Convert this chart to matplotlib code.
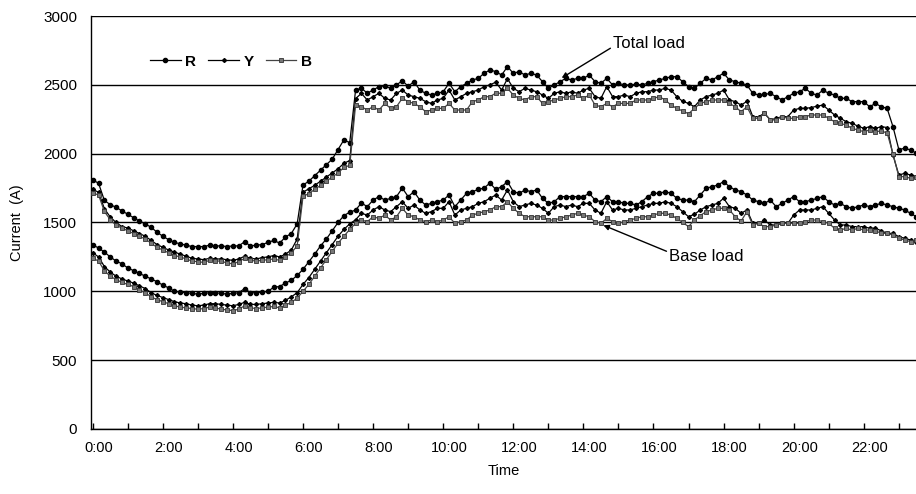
import numpy as np
import matplotlib
matplotlib.use("Agg")
import matplotlib.pyplot as plt

plt.rcParams['font.family'] = ['Liberation Sans', 'DejaVu Sans']

# 10-minute samples from 0:00 to 23:30
total_R = [
    1810, 1785, 1660, 1630, 1610, 1585,
    1560, 1535, 1510, 1490, 1465, 1430,
    1400, 1375, 1355, 1345, 1335, 1325,
    1325, 1325, 1335, 1330, 1330, 1325,
    1330, 1330, 1360, 1330, 1335, 1340,
    1355, 1370, 1350, 1395, 1420, 1490,
    1772, 1800, 1840, 1880, 1920, 1960,
    2030, 2100, 2080, 2462, 2475, 2440,
    2462, 2487, 2492, 2475, 2499, 2530,
    2490, 2523, 2462, 2438, 2426, 2438,
    2450, 2511, 2450, 2487, 2511, 2535,
    2547, 2584, 2608, 2596, 2571, 2632,
    2584, 2596, 2571, 2584, 2571, 2523,
    2475, 2499, 2523, 2547, 2535, 2547,
    2547, 2571, 2523, 2511, 2547, 2499,
    2511, 2499, 2499, 2505, 2499, 2511,
    2523, 2535, 2547, 2559, 2559, 2523,
    2487, 2475, 2511, 2547, 2535, 2559,
    2584, 2535, 2523, 2511, 2499, 2438,
    2426, 2430, 2438, 2414, 2390, 2414,
    2438, 2450, 2475, 2438, 2426, 2462,
    2438, 2426, 2402, 2402, 2378, 2378,
    2378, 2341, 2365, 2341, 2329, 2196,
    2030, 2039, 2027, 2003,
]
total_Y = [
    1740, 1720, 1600, 1540, 1500, 1470,
    1460, 1440, 1420, 1400, 1370, 1340,
    1320, 1300, 1285, 1270, 1255, 1240,
    1235, 1230, 1240, 1235, 1235, 1230,
    1225, 1235, 1255, 1240, 1235, 1245,
    1250, 1260, 1250, 1270, 1300, 1380,
    1720, 1745, 1770, 1800, 1830, 1860,
    1890, 1930, 1950, 2400, 2438, 2390,
    2414, 2438, 2402, 2390, 2438, 2462,
    2426, 2414, 2402, 2378, 2365, 2390,
    2402, 2462, 2390, 2414, 2438, 2450,
    2462, 2487, 2499, 2520, 2462, 2545,
    2475, 2450, 2475, 2462, 2450, 2426,
    2402, 2438, 2450, 2438, 2450, 2438,
    2462, 2475, 2414, 2402, 2487, 2414,
    2414, 2426, 2414, 2438, 2450, 2450,
    2462, 2462, 2475, 2462, 2414, 2380,
    2365, 2341, 2390, 2414, 2426, 2438,
    2462, 2390, 2378, 2353, 2380, 2269,
    2269, 2293, 2245, 2257, 2269, 2269,
    2317, 2329, 2329, 2335, 2345, 2353,
    2317, 2281, 2257, 2232, 2220, 2200,
    2184, 2196, 2184, 2196, 2190, 1990,
    1845, 1857, 1845, 1833,
]
total_B = [
    1715, 1700, 1580, 1520, 1480, 1460,
    1440, 1420, 1400, 1380, 1350, 1320,
    1300, 1280, 1260, 1250, 1235, 1220,
    1215, 1210, 1225, 1220, 1220, 1205,
    1200, 1215, 1240, 1225, 1220, 1225,
    1230, 1235, 1225, 1250, 1280, 1330,
    1690, 1710, 1740, 1770, 1800, 1830,
    1860, 1900, 1915, 2353, 2341, 2317,
    2341, 2317, 2365, 2329, 2341, 2402,
    2378, 2365, 2341, 2305, 2317, 2329,
    2329, 2365, 2317, 2317, 2317, 2378,
    2390, 2414, 2414, 2440, 2438, 2475,
    2426, 2402, 2390, 2414, 2414, 2365,
    2378, 2390, 2402, 2414, 2414, 2426,
    2402, 2426, 2353, 2341, 2365, 2341,
    2365, 2365, 2365, 2390, 2390, 2390,
    2402, 2414, 2390, 2353, 2329, 2310,
    2290, 2329, 2365, 2378, 2390, 2390,
    2390, 2365, 2341, 2305, 2341, 2257,
    2257, 2293, 2245, 2245, 2269, 2257,
    2257, 2269, 2269, 2281, 2281, 2281,
    2257, 2232, 2220, 2208, 2184, 2172,
    2160, 2172, 2160, 2165, 2150, 2000,
    1833, 1833, 1821, 1833,
]
base_R = [
    1337, 1315, 1285, 1250, 1220, 1200,
    1170, 1150, 1130, 1110, 1090, 1070,
    1045, 1025, 1000, 995, 990, 985,
    980, 985, 990, 990, 985, 980,
    985, 990, 1020, 990, 990, 995,
    1000, 1030, 1035, 1060, 1080, 1115,
    1160, 1215, 1270, 1330, 1380, 1440,
    1500, 1550, 1575, 1590, 1642, 1615,
    1663, 1688, 1663, 1675, 1688, 1750,
    1688, 1724, 1663, 1627, 1639, 1651,
    1663, 1700, 1615, 1663, 1712, 1724,
    1740, 1750, 1787, 1740, 1760, 1797,
    1724, 1712, 1736, 1724, 1736, 1676,
    1639, 1651, 1688, 1688, 1688, 1688,
    1688, 1712, 1663, 1651, 1688, 1651,
    1651, 1639, 1639, 1627, 1651, 1688,
    1712, 1712, 1724, 1712, 1676, 1663,
    1663, 1651, 1700, 1748, 1760, 1772,
    1797, 1760, 1736, 1724, 1700, 1663,
    1651, 1639, 1663, 1615, 1639, 1663,
    1688, 1651, 1651, 1663, 1675, 1688,
    1651, 1627, 1639, 1615, 1603, 1615,
    1627, 1615, 1627, 1639, 1627, 1615,
    1603, 1591, 1567, 1542,
]
base_Y = [
    1280, 1250, 1180, 1140, 1110, 1090,
    1075, 1060, 1040, 1020, 990, 970,
    955, 940, 925, 915, 910, 900,
    895, 900, 910, 910, 905, 900,
    895, 905, 920, 905, 905, 910,
    915, 920, 915, 935, 960, 990,
    1050, 1100, 1160, 1220, 1280, 1340,
    1400, 1450, 1490, 1520, 1567, 1554,
    1591, 1615, 1591, 1579, 1615, 1651,
    1603, 1627, 1591, 1567, 1579, 1603,
    1603, 1651, 1554, 1591, 1603, 1615,
    1639, 1651, 1676, 1700, 1663, 1736,
    1651, 1615, 1627, 1639, 1627, 1603,
    1567, 1615, 1627, 1615, 1627, 1615,
    1639, 1639, 1591, 1567, 1651, 1591,
    1603, 1591, 1591, 1603, 1615, 1627,
    1639, 1639, 1651, 1639, 1615, 1579,
    1542, 1560, 1590, 1615, 1627, 1639,
    1676, 1615, 1603, 1567, 1591, 1494,
    1494, 1518, 1482, 1482, 1494, 1494,
    1554, 1591, 1591, 1591, 1603, 1615,
    1567, 1518, 1482, 1482, 1470, 1470,
    1470, 1458, 1458, 1440, 1421, 1421,
    1397, 1385, 1373, 1361,
]
base_B = [
    1240, 1220, 1150, 1110, 1085, 1065,
    1050, 1035, 1010, 990, 960, 940,
    925, 910, 895, 885, 880, 875,
    870, 875, 885, 880, 870, 865,
    860, 870, 895, 880, 875, 880,
    885, 890, 880, 900, 920, 950,
    1000, 1050, 1110, 1170, 1230, 1290,
    1350, 1400, 1450, 1494, 1518, 1506,
    1542, 1530, 1554, 1518, 1542, 1603,
    1554, 1542, 1518, 1506, 1518, 1506,
    1518, 1542, 1494, 1506, 1518, 1554,
    1567, 1579, 1591, 1615, 1615, 1651,
    1603, 1567, 1542, 1542, 1542, 1542,
    1518, 1518, 1530, 1542, 1554, 1567,
    1554, 1542, 1506, 1494, 1530, 1506,
    1494, 1506, 1518, 1530, 1542, 1542,
    1554, 1567, 1567, 1554, 1530, 1500,
    1470, 1518, 1550, 1579, 1591, 1603,
    1603, 1591, 1542, 1510, 1579, 1482,
    1494, 1470, 1470, 1482, 1494, 1494,
    1494, 1494, 1506, 1518, 1518, 1506,
    1494, 1458, 1445, 1458, 1445, 1458,
    1445, 1445, 1440, 1421, 1421, 1409,
    1385, 1373, 1361, 1373,
]

phase_labels = ["R", "Y", "B"]
x_tick_labels = ["0:00", "2:00", "4:00", "6:00", "8:00", "10:00",
                 "12:00", "14:00", "16:00", "18:00", "20:00", "22:00"]
y_ticks = [0, 500, 1000, 1500, 2000, 2500, 3000]

n = len(total_R)
hours = np.arange(n) / 6.0

fig = plt.figure(figsize=(9.16, 4.94), dpi=100)
ax = fig.add_axes([0.0993, 0.1316, 0.9007, 0.836])

styles = {
    "R": dict(color="black", marker="o", ms=3.0, mfc="black", mec="black", lw=0.9),
    "Y": dict(color="black", marker="D", ms=2.0, mfc="black", mec="black", lw=0.9),
    "B": dict(color="#444444", marker="s", ms=3.0, mfc="#777777", mec="#333333", mew=0.6, lw=0.9),
}

for y in y_ticks:
    ax.axhline(y, color="black", lw=1.0, zorder=1)

handles = []
for series, ph in zip((total_R, total_Y, total_B), phase_labels):
    h, = ax.plot(hours[:len(series)], series, zorder=3, **styles[ph], label=ph)
    handles.append(h)
for series, ph in zip((base_R, base_Y, base_B), phase_labels):
    ax.plot(hours[:len(series)], series, zorder=3, **styles[ph])

ax.set_xlim(-0.05, 23.49)
ax.set_ylim(0, 3000)
ax.set_yticks(y_ticks)
ax.set_yticklabels([str(v) for v in y_ticks], fontsize=11)
ax.tick_params(axis="y", length=0, pad=10)

label_pos = [2 * k + 0.17 for k in range(len(x_tick_labels))]
ax.set_xticks(label_pos)
ax.set_xticklabels(x_tick_labels, fontsize=10.5)
ax.tick_params(axis="x", length=0, pad=9)
ax.set_xticks(np.arange(0, 24, 1), minor=True)
ax.tick_params(axis="x", which="minor", direction="in", length=4, width=1, color="black")

for side in ("top", "right"):
    ax.spines[side].set_visible(False)
ax.spines["left"].set_linewidth(1.0)
ax.spines["bottom"].set_linewidth(1.0)

ax.set_ylabel("Current  (A)", fontsize=10.5, labelpad=14)
ax.set_xlabel("Time", fontsize=10.5, labelpad=6)

leg = ax.legend(handles=handles, loc="upper left", bbox_to_anchor=(0.055, 0.94),
                ncol=3, frameon=False, fontsize=11, handlelength=2.0,
                handletextpad=0.3, columnspacing=0.8)
for t in leg.get_texts():
    t.set_fontweight("bold")

ax.annotate("Total load", xy=(13.38, 2550), xytext=(14.85, 2800),
            fontsize=12, ha="left", va="center",
            arrowprops=dict(arrowstyle="-|>", color="black", lw=1.0,
                            mutation_scale=8, shrinkA=0, shrinkB=0,
                            relpos=(0, 0.3)))
ax.annotate("Base load", xy=(14.57, 1480), xytext=(16.45, 1250),
            fontsize=12, ha="left", va="center",
            arrowprops=dict(arrowstyle="-|>", color="black", lw=1.0,
                            mutation_scale=8, shrinkA=0, shrinkB=0,
                            relpos=(0, 0.8)))

fig.savefig("out.png", dpi=100)
